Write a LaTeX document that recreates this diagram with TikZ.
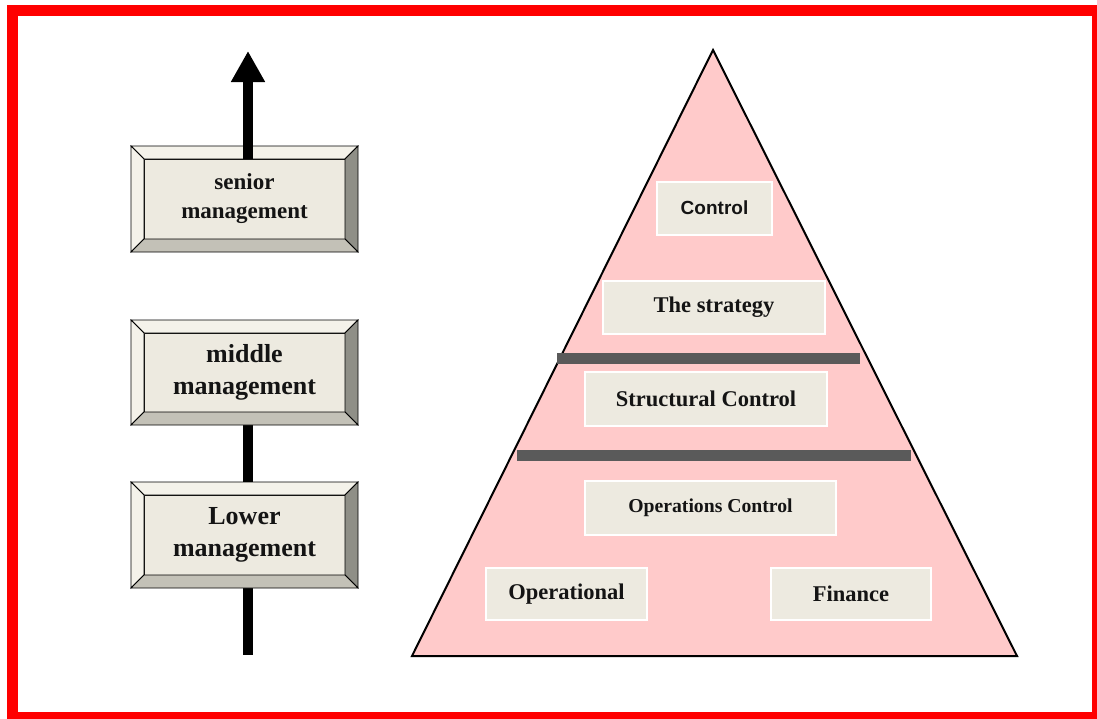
\documentclass[tikz,border=0pt]{standalone}
\usepackage{fontspec}
\setmainfont{Liberation Serif}
\newfontfamily\arialfont{Liberation Sans}
\usetikzlibrary{calc,arrows.meta}

\definecolor{facegray}{HTML}{EDEAE0}
\definecolor{bevlight}{HTML}{F4F2EA}
\definecolor{bevdark}{HTML}{8F8F87}
\definecolor{bevmid}{HTML}{C3C1B7}
\definecolor{pyrpink}{HTML}{FFCACA}
\definecolor{bargray}{HTML}{5A5A5A}
\definecolor{inkblack}{HTML}{141414}

\tikzset{
  face/.style={fill=facegray, draw=black, line width=0.8pt, inner sep=0pt,
    outer sep=0pt, minimum width=201pt, align=center, text=inkblack},
  bevel/.style={draw=black, line width=0.8pt, line join=miter},
  tagbox/.style={fill=facegray, draw=white, line width=2pt, inner sep=0pt,
    outer sep=0pt, text=inkblack, font=\bfseries\fontsize{22.5}{26}\selectfont},
  shaft/.style={line width=10pt, black},
}

\begin{document}
\begin{tikzpicture}[x=1pt,y=-1pt]
  \useasboundingbox (0,0) rectangle (1097,718);
  \draw[red, line width=11pt] (12.5,10.5) rectangle (1097.5,717.5);

  % management levels
  \node[face, minimum height=80pt, font=\bfseries\fontsize{23}{29}\selectfont]
    (snr) at (244.5,199) {senior\\management};
  \node[face, minimum height=79pt, font=\bfseries\fontsize{26}{32}\selectfont]
    (mid) at (244.5,372.5) {middle\\management};
  \node[face, minimum height=80pt, font=\bfseries\fontsize{26}{32}\selectfont]
    (low) at (244.5,535) {Lower\\management};
  \coordinate (top) at (248,51);
  \coordinate (bot) at (248,655);

  \draw[shaft] (mid.south -| top) -- (low.north -| top);
  \draw[shaft] (low.south -| top) -- (bot);

  \foreach \n in {snr,mid,low}{
    \filldraw[bevel, fill=bevlight] (\n.north west) -- ($(\n.north west)+(-13,-13)$)
      -- ($(\n.north east)+(13,-13)$) -- (\n.north east) -- cycle;
    \filldraw[bevel, fill=bevlight] (\n.north west) -- ($(\n.north west)+(-13,-13)$)
      -- ($(\n.south west)+(-13,13)$) -- (\n.south west) -- cycle;
    \filldraw[bevel, fill=bevdark] (\n.north east) -- ($(\n.north east)+(13,-13)$)
      -- ($(\n.south east)+(13,13)$) -- (\n.south east) -- cycle;
    \filldraw[bevel, fill=bevmid] (\n.south west) -- ($(\n.south west)+(-13,13)$)
      -- ($(\n.south east)+(13,13)$) -- (\n.south east) -- cycle;
  }
  \draw[shaft, -{Triangle[width=32pt,length=31pt]}] (snr.north -| top) -- (top);

  % pyramid
  \coordinate (apex) at (713,50);
  \coordinate (bl) at (412,656);
  \coordinate (br) at (1017,656);
  \filldraw[fill=pyrpink, draw=black, line width=2pt, line join=miter] (apex) -- (bl) -- (br) -- cycle;
  \fill[bargray] (557,353) rectangle (860,364);
  \fill[bargray] (517,450) rectangle (911,461);

  \node[tagbox, minimum width=115pt, minimum height=53pt,
    font=\arialfont\bfseries\fontsize{19}{22}\selectfont] (ctl) at (714.5,208) {Control};
  \node[tagbox, minimum width=222pt, minimum height=53pt] (strat) at (714,307.5) {The strategy};
  \node[tagbox, minimum width=242pt, minimum height=54pt] (struct) at (706,399) {Structural Control};
  \node[tagbox, minimum width=251pt, minimum height=54pt,
    font=\bfseries\fontsize{19.7}{23}\selectfont] (ops) at (710.5,508) {Operations Control};
  \node[tagbox, minimum width=161pt, minimum height=52pt] (oper) at (566.5,594) {Operational};
  \node[tagbox, minimum width=160pt, minimum height=52pt] (fin) at (851,594) {Finance};
\end{tikzpicture}
\end{document}
